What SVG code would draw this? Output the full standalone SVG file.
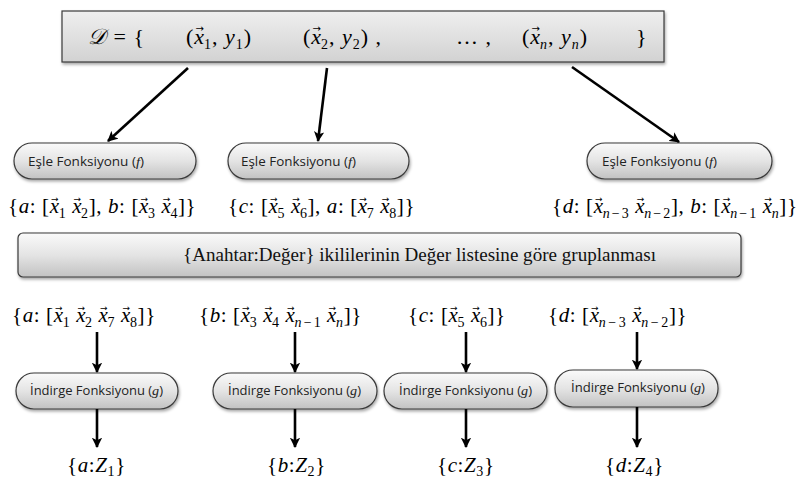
<svg xmlns="http://www.w3.org/2000/svg" width="805" height="480" viewBox="0 0 805 480">
<defs>
<linearGradient id="gNode" x1="0" y1="0" x2="0" y2="1">
<stop offset="0" stop-color="#fafafa"/>
<stop offset="0.5" stop-color="#e4e4e4"/>
<stop offset="1" stop-color="#c2c2c2"/>
</linearGradient>
<linearGradient id="gTop" x1="0" y1="0" x2="0" y2="1">
<stop offset="0" stop-color="#efefef"/>
<stop offset="1" stop-color="#d2d2d2"/>
</linearGradient>
<filter id="sh" x="-5%" y="-20%" width="110%" height="150%">
<feDropShadow dx="1" dy="2" stdDeviation="1.5" flood-color="#000" flood-opacity="0.35"/>
</filter>
<marker id="ah" viewBox="0 0 10 10" refX="9" refY="5" markerWidth="4" markerHeight="4" orient="auto" markerUnits="strokeWidth">
<path d="M0,0 L10,5 L0,10 L2.5,5 z" fill="#000"/>
</marker>
</defs>
<style>
.box{fill:url(#gNode);stroke:#3a3a3a;stroke-width:1.2;filter:url(#sh)}
.topbox{fill:url(#gTop);stroke:#3a3a3a;stroke-width:1.2;filter:url(#sh)}
.lbl{font-family:"Open Sans","Liberation Sans",sans-serif;font-size:12px;fill:#222}
.m{font-family:"Liberation Serif","DejaVu Serif",serif;font-size:21px;letter-spacing:0.6px;fill:#000}
.t{font-size:22px;letter-spacing:1px}
.bar{font-family:"Liberation Serif","DejaVu Serif",serif;font-size:19px;fill:#111}
.i{font-style:italic}
.s{font-size:14px}
.v{font-family:"DejaVu Sans",sans-serif;font-size:9px;font-style:normal;letter-spacing:0}
.t .v{font-size:10px}
.conn line{stroke:#000;stroke-width:2.6;marker-end:url(#ah)}
</style>

<g id="data">
<rect class="topbox" x="62" y="11" width="602" height="51"/>
<text class="m t" x="88" y="44"><tspan class="i">𝒟</tspan> = {</text>
<text class="m t" x="186" y="44">(<tspan class="i">x</tspan><tspan class="v" dx="-9.5" dy="-12">→</tspan><tspan class="s" dy="17">1</tspan><tspan dy="-5">, </tspan><tspan class="i">y</tspan><tspan class="s" dy="5">1</tspan><tspan dy="-5">)</tspan></text>
<text class="m t" x="303" y="44">(<tspan class="i">x</tspan><tspan class="v" dx="-9.5" dy="-12">→</tspan><tspan class="s" dy="17">2</tspan><tspan dy="-5">, </tspan><tspan class="i">y</tspan><tspan class="s" dy="5">2</tspan><tspan dy="-5">) ,</tspan></text>
<text class="m t" x="456" y="44">… ,</text>
<text class="m t" x="522" y="44">(<tspan class="i">x</tspan><tspan class="v" dx="-9.5" dy="-12">→</tspan><tspan class="s i" dy="17">n</tspan><tspan dy="-5">, </tspan><tspan class="i">y</tspan><tspan class="s i" dy="5">n</tspan><tspan dy="-5">)</tspan></text>
<text class="m t" x="636" y="44">}</text>
</g>

<g id="map1">
<rect class="box" x="14" y="143" width="182" height="36" rx="18"/>
<text class="lbl" x="28" y="166" textLength="116" lengthAdjust="spacingAndGlyphs">Eşle Fonksiyonu (<tspan font-family="Liberation Serif" font-style="italic" font-size="13">f</tspan>)</text>
</g>
<g id="map2">
<rect class="box" x="228" y="143" width="181" height="36" rx="18"/>
<text class="lbl" x="241" y="166" textLength="115" lengthAdjust="spacingAndGlyphs">Eşle Fonksiyonu (<tspan font-family="Liberation Serif" font-style="italic" font-size="13">f</tspan>)</text>
</g>
<g id="map3">
<rect class="box" x="587" y="143" width="185" height="36" rx="18"/>
<text class="lbl" x="602" y="166" textLength="115" lengthAdjust="spacingAndGlyphs">Eşle Fonksiyonu (<tspan font-family="Liberation Serif" font-style="italic" font-size="13">f</tspan>)</text>
</g>

<g id="out1">
<text class="m" x="8" y="213">{<tspan class="i">a</tspan>: [<tspan class="i">x</tspan><tspan class="v" dx="-8.5" dy="-11">→</tspan><tspan class="s" dy="16">1</tspan><tspan dy="-5"> </tspan><tspan class="i">x</tspan><tspan class="v" dx="-8.5" dy="-11">→</tspan><tspan class="s" dy="16">2</tspan><tspan dy="-5">], </tspan><tspan class="i">b</tspan>: [<tspan class="i">x</tspan><tspan class="v" dx="-8.5" dy="-11">→</tspan><tspan class="s" dy="16">3</tspan><tspan dy="-5"> </tspan><tspan class="i">x</tspan><tspan class="v" dx="-8.5" dy="-11">→</tspan><tspan class="s" dy="16">4</tspan><tspan dy="-5">]}</tspan></text>
</g>
<g id="out2">
<text class="m" x="228" y="213">{<tspan class="i">c</tspan>: [<tspan class="i">x</tspan><tspan class="v" dx="-8.5" dy="-11">→</tspan><tspan class="s" dy="16">5</tspan><tspan dy="-5"> </tspan><tspan class="i">x</tspan><tspan class="v" dx="-8.5" dy="-11">→</tspan><tspan class="s" dy="16">6</tspan><tspan dy="-5">], </tspan><tspan class="i">a</tspan>: [<tspan class="i">x</tspan><tspan class="v" dx="-8.5" dy="-11">→</tspan><tspan class="s" dy="16">7</tspan><tspan dy="-5"> </tspan><tspan class="i">x</tspan><tspan class="v" dx="-8.5" dy="-11">→</tspan><tspan class="s" dy="16">8</tspan><tspan dy="-5">]}</tspan></text>
</g>
<g id="out3">
<text class="m" x="552" y="213">{<tspan class="i">d</tspan>: [<tspan class="i">x</tspan><tspan class="v" dx="-8.5" dy="-11">→</tspan><tspan class="s" dy="16"><tspan class="i">n</tspan><tspan dx="1.5">−</tspan><tspan dx="1.5">3</tspan></tspan><tspan dy="-5"> </tspan><tspan class="i">x</tspan><tspan class="v" dx="-8.5" dy="-11">→</tspan><tspan class="s" dy="16"><tspan class="i">n</tspan><tspan dx="1.5">−</tspan><tspan dx="1.5">2</tspan></tspan><tspan dy="-5">], </tspan><tspan class="i">b</tspan>: [<tspan class="i">x</tspan><tspan class="v" dx="-8.5" dy="-11">→</tspan><tspan class="s" dy="16"><tspan class="i">n</tspan><tspan dx="1.5">−</tspan><tspan dx="1.5">1</tspan></tspan><tspan dy="-5"> </tspan><tspan class="i">x</tspan><tspan class="v" dx="-8.5" dy="-11">→</tspan><tspan class="s i" dy="16">n</tspan><tspan dy="-5">]}</tspan></text>
</g>

<g id="group">
<rect class="box" x="18" y="233" width="723" height="44" rx="5"/>
<text class="bar" x="183" y="261" textLength="473" lengthAdjust="spacingAndGlyphs">{Anahtar:Değer} ikililerinin Değer listesine göre gruplanması</text>
</g>

<g id="in1">
<text class="m" x="12" y="322">{<tspan class="i">a</tspan>: [<tspan class="i">x</tspan><tspan class="v" dx="-8.5" dy="-11">→</tspan><tspan class="s" dy="16">1</tspan><tspan dy="-5"> </tspan><tspan class="i">x</tspan><tspan class="v" dx="-8.5" dy="-11">→</tspan><tspan class="s" dy="16">2</tspan><tspan dy="-5"> </tspan><tspan class="i">x</tspan><tspan class="v" dx="-8.5" dy="-11">→</tspan><tspan class="s" dy="16">7</tspan><tspan dy="-5"> </tspan><tspan class="i">x</tspan><tspan class="v" dx="-8.5" dy="-11">→</tspan><tspan class="s" dy="16">8</tspan><tspan dy="-5">]}</tspan></text>
</g>
<g id="in2">
<text class="m" x="199" y="322">{<tspan class="i">b</tspan>: [<tspan class="i">x</tspan><tspan class="v" dx="-8.5" dy="-11">→</tspan><tspan class="s" dy="16">3</tspan><tspan dy="-5"> </tspan><tspan class="i">x</tspan><tspan class="v" dx="-8.5" dy="-11">→</tspan><tspan class="s" dy="16">4</tspan><tspan dy="-5"> </tspan><tspan class="i">x</tspan><tspan class="v" dx="-8.5" dy="-11">→</tspan><tspan class="s" dy="16"><tspan class="i">n</tspan><tspan dx="1.5">−</tspan><tspan dx="1.5">1</tspan></tspan><tspan dy="-5"> </tspan><tspan class="i">x</tspan><tspan class="v" dx="-8.5" dy="-11">→</tspan><tspan class="s i" dy="16">n</tspan><tspan dy="-5">]}</tspan></text>
</g>
<g id="in3">
<text class="m" x="408" y="322">{<tspan class="i">c</tspan>: [<tspan class="i">x</tspan><tspan class="v" dx="-8.5" dy="-11">→</tspan><tspan class="s" dy="16">5</tspan><tspan dy="-5"> </tspan><tspan class="i">x</tspan><tspan class="v" dx="-8.5" dy="-11">→</tspan><tspan class="s" dy="16">6</tspan><tspan dy="-5">]}</tspan></text>
</g>
<g id="in4">
<text class="m" x="548" y="322">{<tspan class="i">d</tspan>: [<tspan class="i">x</tspan><tspan class="v" dx="-8.5" dy="-11">→</tspan><tspan class="s" dy="16"><tspan class="i">n</tspan><tspan dx="2">−</tspan><tspan dx="2">3</tspan></tspan><tspan dy="-5"> </tspan><tspan class="i">x</tspan><tspan class="v" dx="-8.5" dy="-11">→</tspan><tspan class="s" dy="16"><tspan class="i">n</tspan><tspan dx="2">−</tspan><tspan dx="2">2</tspan></tspan><tspan dy="-5">]}</tspan></text>
</g>

<g id="reduce1">
<rect class="box" x="16" y="373" width="162" height="36" rx="18"/>
<text class="lbl" x="30" y="395" textLength="133" lengthAdjust="spacingAndGlyphs">İndirge Fonksiyonu (<tspan font-family="Liberation Serif" font-style="italic" font-size="13">g</tspan>)</text>
</g>
<g id="reduce2">
<rect class="box" x="213" y="373" width="164" height="36" rx="18"/>
<text class="lbl" x="228" y="395" textLength="133" lengthAdjust="spacingAndGlyphs">İndirge Fonksiyonu (<tspan font-family="Liberation Serif" font-style="italic" font-size="13">g</tspan>)</text>
</g>
<g id="reduce3">
<rect class="box" x="384" y="373" width="163" height="36" rx="18"/>
<text class="lbl" x="399" y="395" textLength="133" lengthAdjust="spacingAndGlyphs">İndirge Fonksiyonu (<tspan font-family="Liberation Serif" font-style="italic" font-size="13">g</tspan>)</text>
</g>
<g id="reduce4">
<rect class="box" x="555" y="370" width="163" height="37" rx="18"/>
<text class="lbl" x="571" y="392" textLength="134" lengthAdjust="spacingAndGlyphs">İndirge Fonksiyonu (<tspan font-family="Liberation Serif" font-style="italic" font-size="13">g</tspan>)</text>
</g>

<g id="res1"><text class="m" x="67" y="472">{<tspan class="i">a</tspan>:<tspan class="i">Z</tspan><tspan class="s" dy="4">1</tspan><tspan dy="-4">}</tspan></text></g>
<g id="res2"><text class="m" x="267" y="472">{<tspan class="i">b</tspan>:<tspan class="i">Z</tspan><tspan class="s" dy="4">2</tspan><tspan dy="-4">}</tspan></text></g>
<g id="res3"><text class="m" x="437" y="472">{<tspan class="i">c</tspan>:<tspan class="i">Z</tspan><tspan class="s" dy="4">3</tspan><tspan dy="-4">}</tspan></text></g>
<g id="res4"><text class="m" x="605" y="472">{<tspan class="i">d</tspan>:<tspan class="i">Z</tspan><tspan class="s" dy="4">4</tspan><tspan dy="-4">}</tspan></text></g>

<g id="connectors" class="conn">
<line x1="188" y1="68" x2="108" y2="141"/>
<line x1="327" y1="68" x2="318" y2="141"/>
<line x1="572" y1="67" x2="679" y2="142"/>
<line x1="97" y1="332" x2="97" y2="372"/>
<line x1="295" y1="332" x2="295" y2="372"/>
<line x1="466" y1="332" x2="466" y2="372"/>
<line x1="637" y1="332" x2="637" y2="369"/>
<line x1="97" y1="409" x2="97" y2="447"/>
<line x1="295" y1="409" x2="295" y2="447"/>
<line x1="466" y1="409" x2="466" y2="447"/>
<line x1="637" y1="407" x2="637" y2="447"/>
</g>
</svg>
